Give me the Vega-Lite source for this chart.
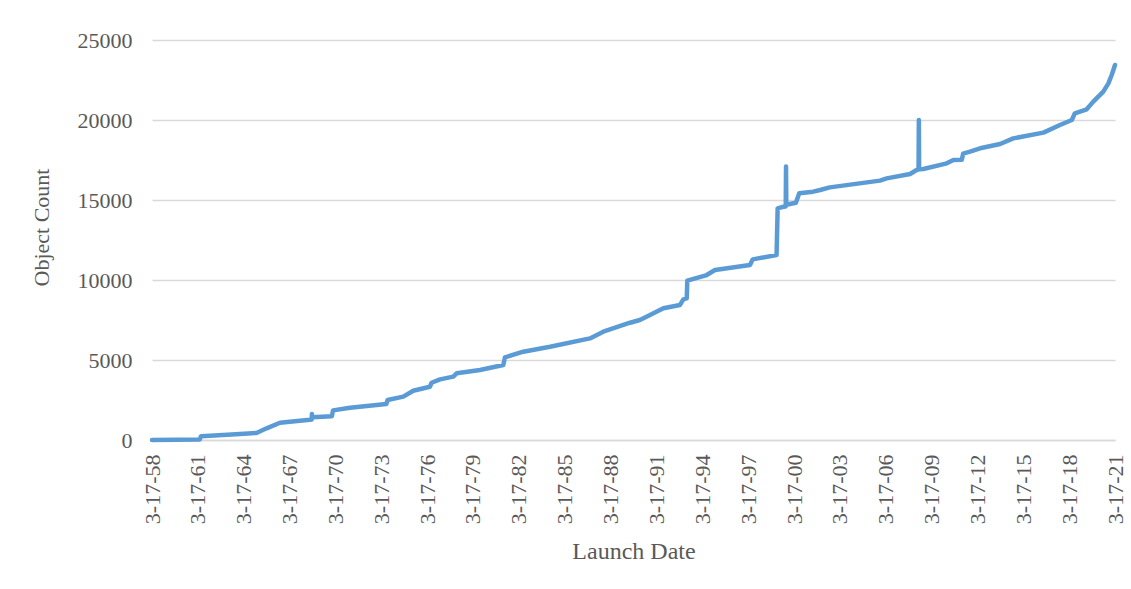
{
  "$schema": "https://vega.github.io/schema/vega-lite/v6.json",
  "width": 963,
  "height": 400,
  "autosize": "none",
  "padding": {"left": 152, "top": 40, "right": 16, "bottom": 149},
  "background": "white",
  "config": {"view": {"stroke": null}, "font": "Liberation Serif"},
  "data": {"values": [
    {"date": "1958-03-17", "count": 0},
    {"date": "1961-05-01", "count": 30},
    {"date": "1961-06-01", "count": 240},
    {"date": "1963-06-01", "count": 340},
    {"date": "1965-01-15", "count": 440},
    {"date": "1965-09-15", "count": 730},
    {"date": "1966-07-30", "count": 1080},
    {"date": "1968-07-15", "count": 1260},
    {"date": "1968-08-25", "count": 1280},
    {"date": "1968-09-01", "count": 1620},
    {"date": "1968-09-08", "count": 1420},
    {"date": "1969-12-20", "count": 1480},
    {"date": "1970-01-20", "count": 1850},
    {"date": "1971-03-01", "count": 2020},
    {"date": "1973-07-15", "count": 2250},
    {"date": "1973-08-15", "count": 2500},
    {"date": "1974-08-25", "count": 2710},
    {"date": "1975-04-20", "count": 3080},
    {"date": "1976-05-20", "count": 3330},
    {"date": "1976-07-01", "count": 3580},
    {"date": "1977-01-20", "count": 3790},
    {"date": "1977-12-01", "count": 3960},
    {"date": "1978-02-20", "count": 4170},
    {"date": "1979-09-01", "count": 4375},
    {"date": "1981-03-10", "count": 4690},
    {"date": "1981-04-20", "count": 5170},
    {"date": "1982-07-01", "count": 5520},
    {"date": "1984-04-01", "count": 5830},
    {"date": "1986-11-10", "count": 6350},
    {"date": "1987-09-25", "count": 6770},
    {"date": "1989-01-15", "count": 7190},
    {"date": "1989-06-25", "count": 7330},
    {"date": "1990-02-15", "count": 7500},
    {"date": "1990-10-15", "count": 7810},
    {"date": "1991-08-30", "count": 8230},
    {"date": "1992-10-01", "count": 8440},
    {"date": "1992-12-20", "count": 8790},
    {"date": "1993-03-10", "count": 8850},
    {"date": "1993-03-25", "count": 9960},
    {"date": "1994-07-01", "count": 10310},
    {"date": "1995-01-15", "count": 10625},
    {"date": "1997-04-30", "count": 10940},
    {"date": "1997-07-05", "count": 11290},
    {"date": "1999-01-25", "count": 11560},
    {"date": "1999-02-20", "count": 14480},
    {"date": "1999-07-05", "count": 14580},
    {"date": "1999-09-01", "count": 14600},
    {"date": "1999-09-08", "count": 17100},
    {"date": "1999-09-15", "count": 14700},
    {"date": "2000-05-01", "count": 14830},
    {"date": "2000-07-20", "count": 15420},
    {"date": "2001-06-20", "count": 15520},
    {"date": "2001-12-01", "count": 15625},
    {"date": "2002-07-20", "count": 15790},
    {"date": "2005-11-01", "count": 16210},
    {"date": "2006-04-10", "count": 16350},
    {"date": "2007-10-20", "count": 16625},
    {"date": "2008-03-25", "count": 16875},
    {"date": "2008-05-10", "count": 16900},
    {"date": "2008-05-17", "count": 20000},
    {"date": "2008-05-24", "count": 16920},
    {"date": "2008-09-01", "count": 16940},
    {"date": "2010-03-15", "count": 17290},
    {"date": "2010-08-20", "count": 17500},
    {"date": "2011-03-10", "count": 17520},
    {"date": "2011-04-10", "count": 17900},
    {"date": "2011-09-20", "count": 18020},
    {"date": "2012-05-20", "count": 18230},
    {"date": "2013-09-10", "count": 18500},
    {"date": "2014-07-20", "count": 18850},
    {"date": "2016-07-10", "count": 19210},
    {"date": "2017-08-10", "count": 19690},
    {"date": "2018-05-20", "count": 20000},
    {"date": "2018-08-01", "count": 20420},
    {"date": "2019-05-10", "count": 20670},
    {"date": "2019-10-15", "count": 21150},
    {"date": "2020-06-10", "count": 21770},
    {"date": "2020-10-10", "count": 22290},
    {"date": "2020-12-28", "count": 22810},
    {"date": "2021-03-17", "count": 23440}
  ]},
  "mark": {"type": "line", "color": "#5B9BD5", "strokeWidth": 4.5, "strokeCap": "round", "strokeJoin": "round", "clip": false},
  "encoding": {
    "x": {
      "field": "date",
      "type": "temporal",
      "scale": {
        "type": "utc",
        "domain": [{"year": 1958, "month": 3, "date": 17, "utc": true}, {"year": 2021, "month": 3, "date": 17, "utc": true}]
      },
      "axis": {
        "values": [
          {"year": 1958, "month": 3, "date": 17, "utc": true},
          {"year": 1961, "month": 3, "date": 17, "utc": true},
          {"year": 1964, "month": 3, "date": 17, "utc": true},
          {"year": 1967, "month": 3, "date": 17, "utc": true},
          {"year": 1970, "month": 3, "date": 17, "utc": true},
          {"year": 1973, "month": 3, "date": 17, "utc": true},
          {"year": 1976, "month": 3, "date": 17, "utc": true},
          {"year": 1979, "month": 3, "date": 17, "utc": true},
          {"year": 1982, "month": 3, "date": 17, "utc": true},
          {"year": 1985, "month": 3, "date": 17, "utc": true},
          {"year": 1988, "month": 3, "date": 17, "utc": true},
          {"year": 1991, "month": 3, "date": 17, "utc": true},
          {"year": 1994, "month": 3, "date": 17, "utc": true},
          {"year": 1997, "month": 3, "date": 17, "utc": true},
          {"year": 2000, "month": 3, "date": 17, "utc": true},
          {"year": 2003, "month": 3, "date": 17, "utc": true},
          {"year": 2006, "month": 3, "date": 17, "utc": true},
          {"year": 2009, "month": 3, "date": 17, "utc": true},
          {"year": 2012, "month": 3, "date": 17, "utc": true},
          {"year": 2015, "month": 3, "date": 17, "utc": true},
          {"year": 2018, "month": 3, "date": 17, "utc": true},
          {"year": 2021, "month": 3, "date": 17, "utc": true}
        ],
        "format": "%-m-%d-%y",
        "labelAngle": 270,
        "labelAlign": "right",
        "labelBaseline": "middle",
        "labelPadding": 14,
        "labelFontSize": 22,
        "labelColor": "#595959",
        "labelFont": "Liberation Serif",
        "labelOverlap": false,
        "labelFlush": false,
        "ticks": false,
        "grid": false,
        "domainColor": "#D9D9D9",
        "domainWidth": 1.3,
        "title": "Launch Date",
        "titleFont": "Liberation Serif",
        "titleFontSize": 24,
        "titleFontWeight": "normal",
        "titleColor": "#595959",
        "titleBaseline": "alphabetic",
        "titleY": 118
      }
    },
    "y": {
      "field": "count",
      "type": "quantitative",
      "scale": {"domain": [0, 25000], "nice": false},
      "axis": {
        "values": [0, 5000, 10000, 15000, 20000, 25000],
        "format": "d",
        "domain": false,
        "ticks": false,
        "grid": true,
        "gridColor": "#D9D9D9",
        "gridWidth": 1.3,
        "labelPadding": 20,
        "labelFontSize": 22,
        "labelColor": "#595959",
        "labelFont": "Liberation Serif",
        "title": "Object Count",
        "titleFont": "Liberation Serif",
        "titleFontSize": 22,
        "titleFontWeight": "normal",
        "titleColor": "#595959",
        "titleBaseline": "alphabetic",
        "titleX": -104,
        "titleY": 187
      }
    }
  }
}
